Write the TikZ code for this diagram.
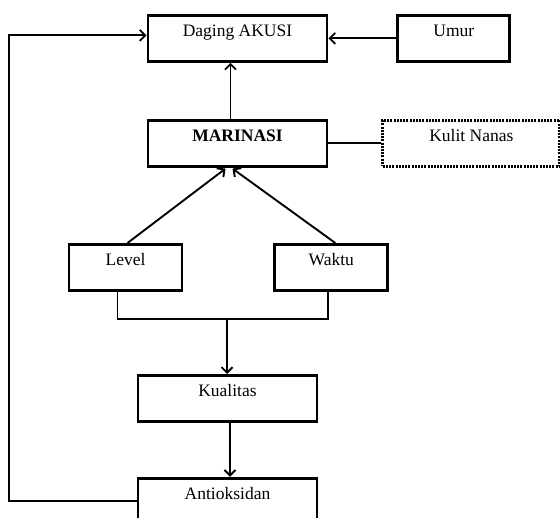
\documentclass[tikz,border=0pt]{standalone}
\usepackage{fontspec}
\setmainfont{Liberation Serif}
\usetikzlibrary{positioning,arrows.meta}
\tikzstyle{block}=[rectangle, draw=black, line width=2.8pt, text centered,
        inner xsep=0pt, inner ysep=0pt, text height=21.5pt, text depth=24.5pt,
        font=\fontsize{17.5}{20}\selectfont]
\tikzstyle{dottedblock}=[block, dash pattern=on 2pt off 1.2pt]
\tikzstyle{myarrow}=[-{Straight Barb[length=5.5pt,width=11pt]}, line width=1.9pt]
\tikzstyle{line}=[-, line width=1.9pt]

\begin{document}
\begin{tikzpicture}[x=1pt, y=1pt]
    \useasboundingbox (0,0) rectangle (560,-518);
    \clip (0,0) rectangle (560,-518);

    \node (Daging) [block, minimum width=179pt, anchor=north] at (237.5,-14) {Daging AKUSI};
    \node (Umur) [block, minimum width=112pt, right=68pt of Daging] {Umur};

    \node (Marinasi) [block, minimum width=179pt, below=56pt of Daging] {\textbf{MARINASI}};
    \node (Kulit) [dottedblock, minimum width=177pt, right=53pt of Marinasi] {Kulit Nanas};

    \node (Level) [block, minimum width=113pt, anchor=north] at (125.5,-243) {Level};
    \node (Waktu) [block, minimum width=113pt, right=90pt of Level] {Waktu};

    \node (Kualitas) [block, minimum width=179pt, anchor=north] at (227.5,-374) {Kualitas};
    \node (Antioksidan) [block, minimum width=179pt, below=54pt of Kualitas] {Antioksidan};

    \coordinate (join) at (227,-319);

    \draw[myarrow] (Umur.west) -- (Daging.east);
    \draw[myarrow] ([xshift=-7pt]Marinasi.north) -- ([xshift=-7pt]Daging.south);
    \draw[line] (Marinasi.east) -- (Kulit.west);

    \draw[myarrow] ([xshift=2pt]Level.north) -- ([xshift=-12pt, yshift=-1pt]Marinasi.south);
    \draw[myarrow] ([xshift=4pt]Waktu.north) -- ([xshift=-5pt, yshift=-1pt]Marinasi.south);

    \draw[line] ([xshift=-8pt]Level.south) |- (join) -| ([xshift=-3pt]Waktu.south);
    \draw[myarrow] (join) -- (join |- Kualitas.north);
    \draw[myarrow] ([xshift=2.5pt]Kualitas.south) -- ([xshift=2.5pt]Antioksidan.north);

    \draw[myarrow] (Antioksidan.west) -- ++(-128pt,0) |- ([yshift=3pt]Daging.west);
\end{tikzpicture}
\end{document}
